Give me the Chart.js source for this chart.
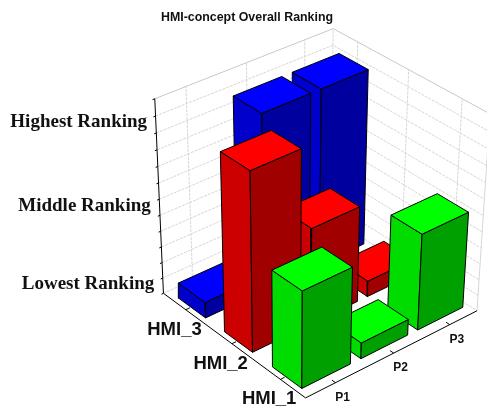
<!DOCTYPE html>
<html><head><meta charset="utf-8">
<style>html,body{margin:0;padding:0;background:#fff}canvas{display:block}</style>
<script src="https://cdn.jsdelivr.net/npm/chart.js@4"></script>
</head><body><canvas id="c" width="487" height="407"></canvas>
<script>
const titleText = 'HMI-concept Overall Ranking';
const participants = ['P1','P2','P3'];
const concepts = ['HMI_1','HMI_2','HMI_3'];
const hmi1 = [2,1,2];
const hmi2 = [3,2,1];
const hmi3 = [1,3,3];
const rankTicks = [1,2,3];
const rankLabels = ['Lowest Ranking','Middle Ranking','Highest Ranking'];
const rankMin = 0.8, rankMax = 3.2, rankStep = 0.2;

const palette = [
 {top:'#00FF00',left:'#00DC00',right:'#00A000'},
 {top:'#FF0000',left:'#CC0000',right:'#A00000'},
 {top:'#0000FF',left:'#0000CC',right:'#00009E'}
];
const HU=0.41, HVF=0.32, HVB=0.27, U0=-0.5,U1=2.5,V0=-0.5,V1=2.5;

// camera calibration: world (cat index u, cat index v, rank w) -> scene position
const calib = [
 [U0,V0,rankMin,306,399],[U1,V0,rankMin,480,312],[U0,V1,rankMin,164,293],
 [U0,V1,rankMax,155,99],[U1,V1,rankMax,336,29],[U1,V0,rankMax,487,114],
 [0,V0,rankMin,335,382],[1,V0,rankMin,395,352],[2,V0,rankMin,452,323],
 [U0,0,rankMin,278,381],[U0,1,rankMin,231,346],[U0,2,rankMin,184,310],
 [-HU,-HVF,rankMin,303,388],[-HU,-HVF,2,302,291],[HU,-HVF,rankMin,351,365],
 [-HU,HVB,2,272,270],[-HU,HVB,rankMin,273,367],[HU,HVB,2,320,247],[HU,-HVF,2,351,267],
 [-HU,1-HVF,3,250,171],[-HU,1-HVF,rankMin,253,352],
 [-HU,1+HVB,3,220,152],[HU,1+HVB,3,270,132],[HU,1-HVF,3,300,150],
 [1-HU,2+HVB,3,233,96],[1+HU,2+HVB,3,282,76],[1+HU,2-HVF,3,311,93],[1-HU,2-HVF,3,262,113],
 [2+HU,2-HVF,3,369,69],[2+HU,2+HVB,3,340,53],[2-HU,2-HVF,3,323,88],[2-HU,2+HVB,3,293,72],
 [2-HU,-HVF,rankMin,421,328],[2+HU,-HVF,rankMin,465,307],[2-HU,HVB,rankMin,391,307],
 [2-HU,HVB,2,392,215],[2-HU,-HVF,2,423,233],[2+HU,-HVF,2,468,212],[2+HU,HVB,2,438,193],
 [1+HU,1+HVB,2,330,188],[1+HU,1-HVF,2,360,207],
 [2-HU,1-HVF,1,370,279],[2-HU,1-HVF,rankMin,370,295],[2+HU,1-HVF,1,391,270],[2+HU,1+HVB,1,386,241],
 [-HU,2+HVB,1,178,282],[-HU,2-HVF,1,206,301]
];
function solveCamera(pts){
 const n=11,A=Array.from({length:n},()=>Array(n+1).fill(0));
 const add=(r,b)=>{for(let i=0;i<n;i++){for(let j=0;j<n;j++)A[i][j]+=r[i]*r[j];A[i][n]+=r[i]*b;}};
 for(const [X,Y,Z,x,y] of pts){
  add([X,Y,Z,1,0,0,0,0,-x*X,-x*Y,-x*Z],x);
  add([0,0,0,0,X,Y,Z,1,-y*X,-y*Y,-y*Z],y);
 }
 for(let i=0;i<n;i++){
  let p=i;for(let k=i+1;k<n;k++)if(Math.abs(A[k][i])>Math.abs(A[p][i]))p=k;
  [A[i],A[p]]=[A[p],A[i]];
  for(let k=0;k<n;k++){if(k===i)continue;const f=A[k][i]/A[i][i];for(let j=i;j<=n;j++)A[k][j]-=f*A[i][j];}
 }
 return A.map((r,i)=>r[n]/r[i]);
}
const P=solveCamera(calib);
function project(u,v,w){
 const d=P[8]*u+P[9]*v+P[10]*w+1;
 return {x:(P[0]*u+P[1]*v+P[2]*w+P[3])/d,y:(P[4]*u+P[5]*v+P[6]*w+P[7])/d};
}
const path=pts=>pts.map(p=>project(...p));
const datasets=[];
function line(pts,color,width,dash){
 datasets.push({type:'line',data:path(pts),borderColor:color,borderWidth:width,borderDash:dash||[],
  pointRadius:0,fill:false,tension:0,clip:false});
}
function face(pts,color,label){
 const c=pts.concat([pts[0]]);
 datasets.push({type:'line',label,data:path(c),borderColor:'#000',borderWidth:1,backgroundColor:color,
  pointRadius:0,fill:'shape',tension:0,clip:false,borderJoinStyle:'miter'});
}
// walls
const gridCol='#D6D6D6',gridDash=[3,1];
const nTicks=Math.round((rankMax-rankMin)/rankStep);
for(let i=0;i<nTicks;i++){
 const w=rankMin+i*rankStep;
 line([[U0,V1,w],[U1,V1,w],[U1,V0,w]],gridCol,1,gridDash);
}
for(let i=0;i<3;i++){
 line([[i,V1,rankMin],[i,V1,rankMax]],gridCol,1,gridDash);
 line([[U1,i,rankMin],[U1,i,rankMax]],gridCol,1,gridDash);
}
line([[U1,V1,rankMin],[U1,V1,rankMax]],gridCol,1,gridDash);
line([[U1,V0,rankMin],[U1,V0,rankMax]],gridCol,1);
line([[U0,V1,rankMax],[U1,V1,rankMax],[U1,V0,rankMax]],'#C8C8C8',1);
// axes
line([[U0,V1,rankMin],[U0,V1,rankMax]],'#000',1);
line([[U0,V1,rankMin],[U0,V0,rankMin],[U1,V0,rankMin]],'#000',1);
for(let i=0;i<=nTicks;i++){const w=rankMin+i*rankStep;line([[U0,V1,w],[U0-0.035,V1,w]],'#000',1);}
for(let i=0;i<3;i++){
 line([[i,V0,rankMin],[i,V0+0.07,rankMin]],'#000',1);
 line([[U0,i,rankMin],[U0+0.07,i,rankMin]],'#000',1);
}
// bars, back to front
const series=[hmi1,hmi2,hmi3];
const cells=[];
series.forEach((vals,v)=>vals.forEach((val,u)=>cells.push({u,v,val})));
cells.sort((a,b)=>(b.u+b.v)-(a.u+a.v)||(b.v-a.v));
for(const {u,v,val} of cells){
 const c=palette[v],a=u-HU,b=u+HU,f=v-HVF,g=v+HVB,z=rankMin;
 face([[a,f,z],[a,g,z],[a,g,val],[a,f,val]],c.left,concepts[v]+' '+participants[u]);
 face([[a,f,z],[b,f,z],[b,f,val],[a,f,val]],c.right,concepts[v]+' '+participants[u]);
 face([[a,f,val],[b,f,val],[b,g,val],[a,g,val]],c.top,concepts[v]+' '+participants[u]);
}
// Chart.js draws the first dataset on top, so give increasing paint order explicitly
datasets.forEach((d,i)=>{d.order=datasets.length-i;});

const PAD_LEFT=7, TITLE_BOX=35;
const labelsPlugin={id:'axisLabels',afterDatasetsDraw(chart){
 const {ctx,scales:{x,y}}=chart;
 const put=(t,p,dx,dy,font,align)=>{
  ctx.font=font;ctx.fillStyle='#111';ctx.textAlign=align;ctx.textBaseline='middle';
  ctx.fillText(t,x.getPixelForValue(p.x)+dx,y.getPixelForValue(p.y)+dy);
 };
 ctx.save();
 rankTicks.forEach((w,i)=>put(rankLabels[i],project(U0,V1,w),-8.5,6.5,'bold 19px "Liberation Serif"','right'));
 concepts.forEach((t,i)=>put(t,project(U0,i,rankMin),16,20,'bold 18.5px "Liberation Sans"','right'));
 participants.forEach((t,i)=>put(t,project(i,V0,rankMin),7,15,'bold 12px "Liberation Sans"','center'));
 ctx.restore();
}};
new Chart(document.getElementById('c'),{
 type:'scatter',
 data:{datasets},
 plugins:[labelsPlugin],
 options:{responsive:false,animation:false,
  layout:{padding:{left:PAD_LEFT}},
  plugins:{legend:{display:false},tooltip:{enabled:false},
   title:{display:true,text:titleText,color:'#111',font:{family:'"Liberation Sans"',size:12.4,weight:'bold',lineHeight:1.2},padding:{top:10.5,bottom:9.62}}},
  scales:{x:{type:'linear',display:false,min:PAD_LEFT,max:487},
          y:{type:'linear',display:false,min:TITLE_BOX,max:407,reverse:true}}}
});
</script></body></html>
